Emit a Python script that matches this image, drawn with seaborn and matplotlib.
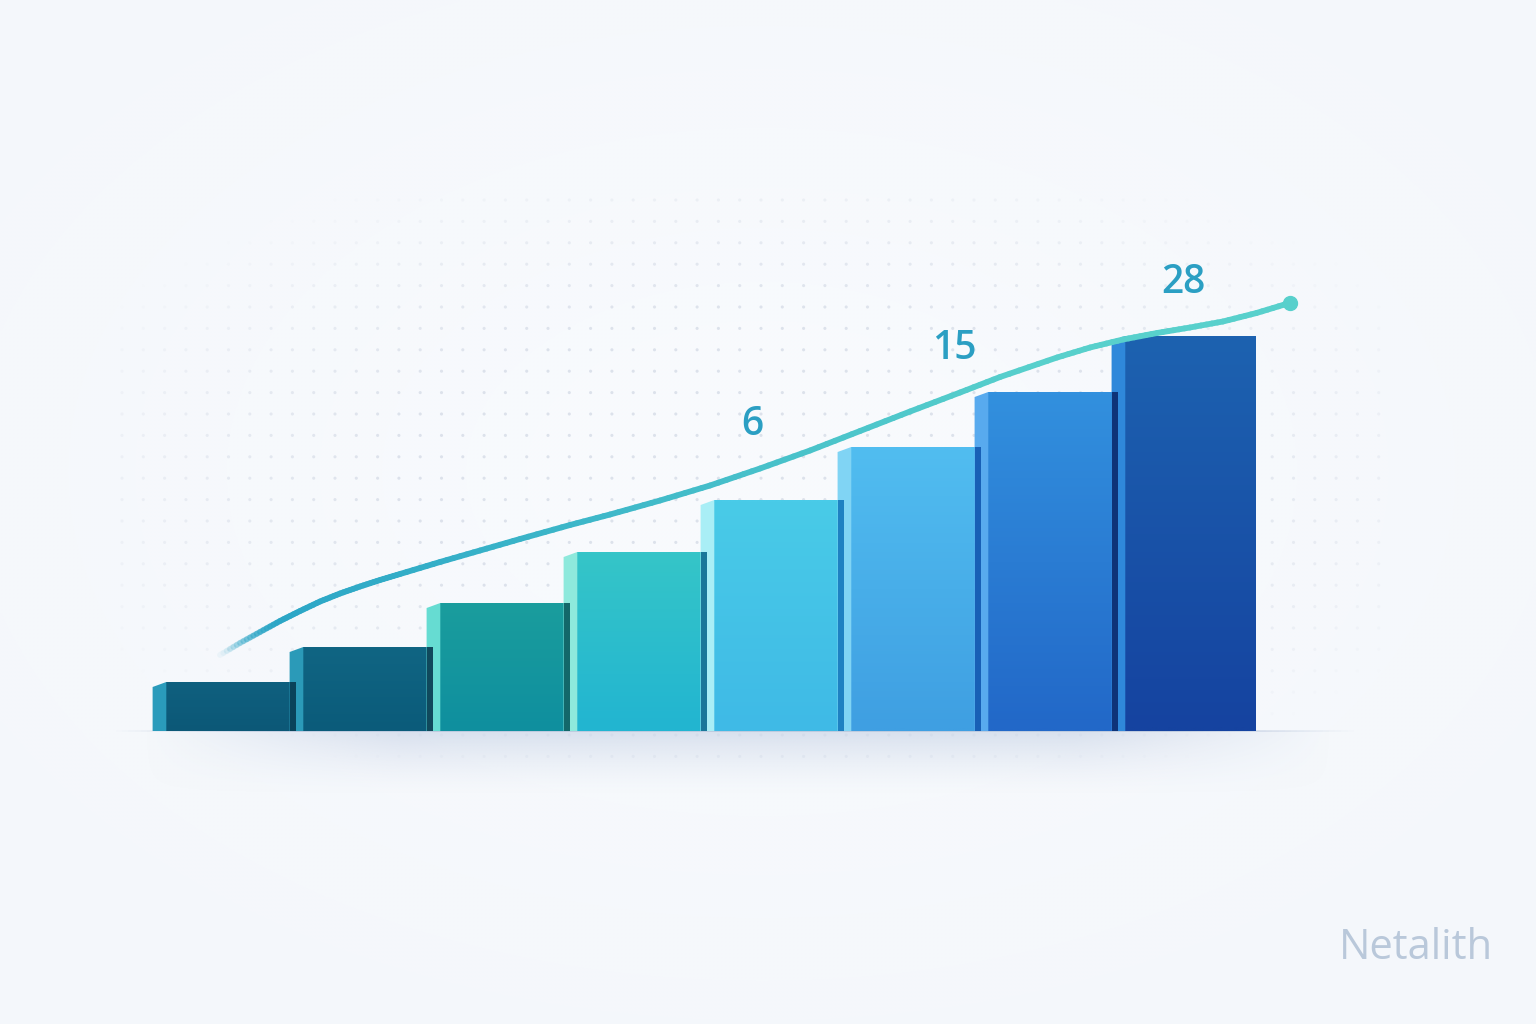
import numpy as np
import matplotlib
matplotlib.use('Agg')
import matplotlib.pyplot as plt
import seaborn as sns
from matplotlib.collections import LineCollection
from matplotlib.patches import Polygon, Rectangle
from matplotlib.colors import to_rgb

# --- data ---
stages = ['S1', 'S2', 'S3', 'S4', 'S5', 'S6', 'S7', 'S8']
values = [4.9, 8.4, 12.8, 17.9, 23.1, 28.4, 33.9, 39.5]

face_top = ['#0f607f', '#106583', '#1a9d9d', '#35c5c8', '#49cbe8', '#51bdf0', '#3290de', '#1d62b0']
face_bottom = ['#0c5877', '#0b5b7a', '#0f8f9f', '#22b5d1', '#3fbae6', '#3f9fe2', '#2268c8', '#1543a0']
side_colors = ['#2a9bbb', '#2b9ab8', '#66dcd2', '#8ee9dc', '#a9eef6', '#80d4f4', '#58aaee', '#2f88da']
edge_colors = ['#073a50', '#07394f', '#065a5e', '#0b6a90', '#1378bd', '#1158b0', '#0b2a6e', None]

trend_x = [-0.033, 0.113, 0.259, 0.405, 0.551, 0.697, 0.843, 0.989, 1.135, 1.281,
           1.573, 1.865, 2.157, 2.522, 2.814, 3.179, 3.544, 3.909, 4.274, 4.639,
           5.004, 5.369, 5.661, 6.077, 6.318, 6.558, 6.807, 7.047, 7.288, 7.533, 7.774]
trend_y = [7.6, 8.8, 9.9, 11.0, 12.0, 12.95, 13.75, 14.45, 15.1, 15.7,
           16.9, 18.05, 19.2, 20.6, 21.65, 23.05, 24.55, 26.25, 28.05, 30.0,
           31.95, 33.85, 35.4, 37.35, 38.35, 39.15, 39.8, 40.35, 40.95, 41.8, 42.8]

label_text = ['6', '15', '28']
label_at = [3.85, 5.33, 7.0]

W, H = 1536, 1024

sns.set_theme(style='white')
fig = plt.figure(figsize=(W / 100, H / 100), dpi=100)
fig.patch.set_facecolor('#f4f7fb')

# background: soft glow + dotted grid (pixel coords)
bg = fig.add_axes([0, 0, 1, 1], zorder=0)
bg.set_xlim(0, W)
bg.set_ylim(H, 0)
bg.axis('off')
yy, xx = np.mgrid[0:H:4, 0:W:4]
glow = np.exp(-(((xx - 760) / 700.0) ** 2 + ((yy - 470) / 450.0) ** 2))
img = np.ones((glow.shape[0], glow.shape[1], 4))
img[..., :3] = to_rgb('#f9fbfe')
img[..., 3] = glow * 0.9
bg.imshow(img, extent=(0, W, H, 0), aspect='auto', interpolation='bilinear')

gx, gy = np.meshgrid(np.arange(122, 1390, 21.3), np.arange(200, 770, 21.4))
fade = np.clip(1.3 - (((gx - 760) / 660.0) ** 2 + ((gy - 480) / 300.0) ** 2), 0, 1)
dot_rgba = np.zeros((gx.size, 4))
dot_rgba[:, :3] = to_rgb('#d6dce7')
dot_rgba[:, 3] = fade.ravel() * 0.8
bg.scatter(gx.ravel(), gy.ravel(), s=5, c=dot_rgba, linewidths=0)

# main axes
ax = fig.add_axes([0, 0, 1, 1], zorder=1)
ax.patch.set_alpha(0)

sns.barplot(x=stages, y=values, hue=stages, palette=face_top, width=1.05,
            saturation=1, legend=False, ax=ax)

ax.set_xlim(-1.639, 9.573)
ax.set_ylim(-29.3, 73.1)
ax.axis('off')

# shadow below baseline
sh = np.zeros((60, 200, 4))
sh[..., :3] = to_rgb('#c5d1e5')
vy = np.linspace(1, 0, 60)[:, None] ** 1.5
hx = np.clip(np.sin(np.linspace(0, np.pi, 200)) * 1.6, 0, 1)[None, :]
sh[..., 3] = vy * hx * 0.6
ax.imshow(sh, extent=(-0.6, 8.1, -6.5, 0), aspect='auto', zorder=1,
          interpolation='bilinear')

# baseline with faded ends
bx = np.linspace(-0.84, 8.29, 200)
segs = [[(bx[k], 0), (bx[k + 1], 0)] for k in range(len(bx) - 1)]
ba = np.clip(np.sin(np.linspace(0, np.pi, len(segs))) * 2.2, 0, 1)
bcol = np.zeros((len(segs), 4))
bcol[:, :3] = to_rgb('#b9c6dc')
bcol[:, 3] = ba * 0.9
ax.add_collection(LineCollection(segs, colors=bcol, linewidths=1.3, zorder=2))

# 3D-look bars built on the seaborn patches
side_w = 0.1
dark_w = 0.045
slant = 0.5
for i, p in enumerate(list(ax.patches)):
    x0, w, h = p.get_x(), p.get_width(), p.get_height()
    z = 3 + i * 0.1
    p.set_visible(False)
    front = Rectangle((x0 + side_w, 0), w - side_w, h, transform=ax.transData)
    grad = np.zeros((50, 2, 3))
    c0, c1 = np.array(to_rgb(face_bottom[i])), np.array(to_rgb(face_top[i]))
    t = np.linspace(0, 1, 50)[:, None, None]
    grad[:] = c0 + (c1 - c0) * t
    im = ax.imshow(grad, extent=(x0 + side_w, x0 + w, 0, h), origin='lower',
                   aspect='auto', zorder=z, interpolation='bilinear')
    im.set_clip_path(front)
    ax.add_patch(Polygon([(x0, 0), (x0, h - slant), (x0 + side_w, h), (x0 + side_w, 0)],
                         closed=True, facecolor=side_colors[i], edgecolor='none', zorder=z))
    if edge_colors[i]:
        # dark edge sits over the next bar's side face
        ax.add_patch(Rectangle((x0 + w - dark_w, 0), dark_w, h, facecolor=edge_colors[i],
                               edgecolor='none', alpha=0.9, zorder=z + 0.15))

# trend curve with colour gradient and faded start
tx = np.array(trend_x)
ty = np.array(trend_y)
pts = []
for k in range(len(tx) - 1):
    for s in np.linspace(0, 1, 6, endpoint=False):
        pts.append((tx[k] + (tx[k + 1] - tx[k]) * s, ty[k] + (ty[k + 1] - ty[k]) * s))
pts.append((tx[-1], ty[-1]))
pts = np.array(pts)
segs = np.stack([pts[:-1], pts[1:]], axis=1)
u = (pts[:-1, 0] - tx[0]) / (tx[-1] - tx[0])
ca, cb = np.array(to_rgb('#28a3c6')), np.array(to_rgb('#58d0cc'))
cols = np.zeros((len(segs), 4))
cols[:, :3] = ca + (cb - ca) * np.clip(u[:, None] * 1.3, 0, 1)
cols[:, 3] = np.clip((pts[:-1, 0] - tx[0]) / 0.45, 0.05, 1)
ax.add_collection(LineCollection(segs, colors=cols, linewidths=4.2,
                                 capstyle='round', joinstyle='round', zorder=10))
ax.plot(tx[-1], ty[-1], 'o', color='#58d0cc', markersize=10, zorder=11)

# value labels above the curve
for txt, lx in zip(label_text, label_at):
    ly = np.interp(lx, tx, ty) + 4.6
    ax.text(lx, ly, txt, ha='center', va='center', fontsize=28,
            fontweight='semibold', color='#2b9fc3', family=['Open Sans', 'DejaVu Sans'],
            zorder=12)

fig.text(1416 / W, 1 - 948 / H, 'Netalith', ha='center', va='center', fontsize=30,
         color='#b9c8da', family=['Open Sans', 'DejaVu Sans'])

fig.savefig('out.png', dpi=100, facecolor=fig.get_facecolor())
